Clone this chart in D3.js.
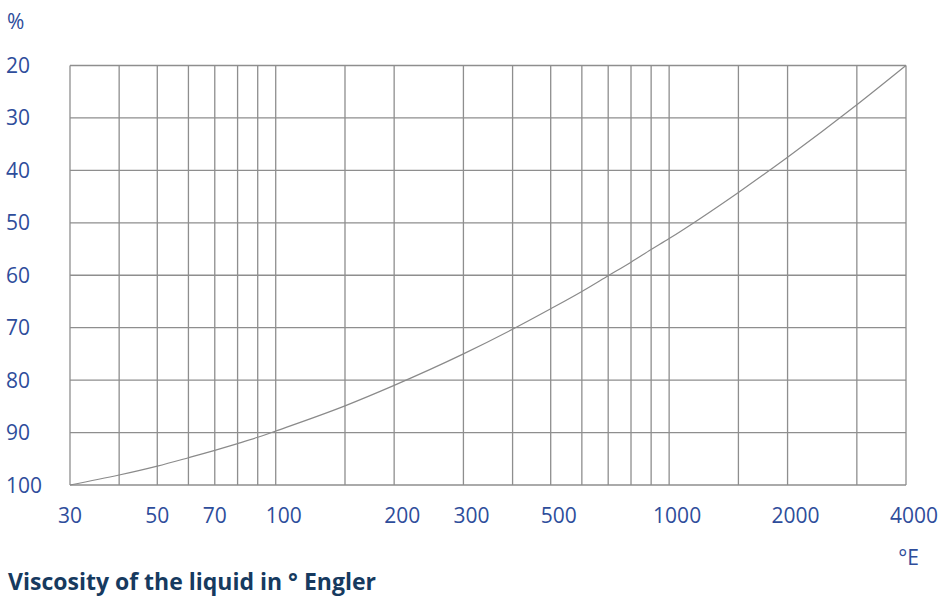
<!DOCTYPE html>
<html>
<head>
<meta charset="utf-8">
<script src="https://cdn.jsdelivr.net/npm/d3@7"></script>
<style>
  html, body { margin: 0; padding: 0; background: #fff; }
  svg { display: block; }
</style>
</head>
<body>
<svg id="chart" width="938" height="596"></svg>
<script>
// Viscosity in degrees Engler against percentage
const engler = [30, 40, 50, 60, 70, 80, 90, 100, 150, 200, 300, 400, 500, 600, 700, 800, 900, 1000, 1500, 2000, 3000, 4000];
const percent = [100, 98.1, 96.4, 94.8, 93.4, 92.1, 90.9, 89.7, 84.9, 81.0, 75.0, 70.3, 66.4, 63.1, 60.1, 57.5, 55.1, 53.0, 44.2, 37.5, 27.5, 20];

// Grid and tick values
const xGrid = [30, 40, 50, 60, 70, 80, 90, 100, 150, 200, 300, 400, 500, 600, 700, 800, 900, 1000, 1500, 2000, 3000, 4000];
const xTickLabels = [30, 50, 70, 100, 200, 300, 500, 1000, 2000, 4000];
const yTicks = [20, 30, 40, 50, 60, 70, 80, 90, 100];

const labelColor = "#2e4d9b";
const titleColor = "#163a5f";
const gridColor = "#8e8e8e";
const font = "'Open Sans', 'Noto Sans', sans-serif";

const svg = d3.select("#chart");

const x = d3.scaleLog().domain([30, 4000]).range([70, 906]);
const y = d3.scaleLinear().domain([20, 100]).range([65.5, 485]);

const grid = svg.append("g").attr("stroke", gridColor).attr("stroke-width", 1.3).attr("fill", "none");

grid.selectAll("line.v").data(xGrid).join("line")
  .attr("class", "v")
  .attr("x1", d => x(d)).attr("x2", d => x(d))
  .attr("y1", y(20)).attr("y2", y(100));

grid.selectAll("line.h").data(yTicks).join("line")
  .attr("class", "h")
  .attr("x1", x(30)).attr("x2", x(4000))
  .attr("y1", d => y(d)).attr("y2", d => y(d));

// Curve
const pts = engler.map((e, i) => [e, percent[i]]);
const line = d3.line()
  .x(d => x(d[0]))
  .y(d => y(d[1]))
  .curve(d3.curveMonotoneX);

svg.append("path")
  .datum(pts)
  .attr("d", line)
  .attr("fill", "none")
  .attr("stroke", "#8a8a8a")
  .attr("stroke-width", 1.2);

// Y tick labels
svg.append("g").selectAll("text").data(yTicks).join("text")
  .attr("x", 6)
  .attr("y", d => y(d))
  .attr("dy", "0.36em")
  .attr("font-family", font)
  .attr("font-size", 21)
  .attr("fill", labelColor)
  .text(d => d);

// X tick labels
svg.append("g").selectAll("text").data(xTickLabels).join("text")
  .attr("x", d => x(d) + (String(d).length > 2 ? 8 : 0))
  .attr("y", 522.5)
  .attr("text-anchor", "middle")
  .attr("font-family", font)
  .attr("font-size", 21)
  .attr("fill", labelColor)
  .text(d => d);

// Unit labels
svg.append("text")
  .attr("x", 7).attr("y", 29)
  .attr("font-family", font).attr("font-size", 21)
  .attr("fill", labelColor)
  .text("%");

svg.append("text")
  .attr("x", 919).attr("y", 565)
  .attr("text-anchor", "end")
  .attr("font-family", font).attr("font-size", 21)
  .attr("fill", labelColor)
  .text("°E");

// Title
svg.append("text")
  .attr("x", 8).attr("y", 590)
  .attr("font-family", font).attr("font-size", 23)
  .attr("font-weight", 700)
  .attr("fill", titleColor)
  .text("Viscosity of the liquid in ° Engler");
</script>
</body>
</html>
